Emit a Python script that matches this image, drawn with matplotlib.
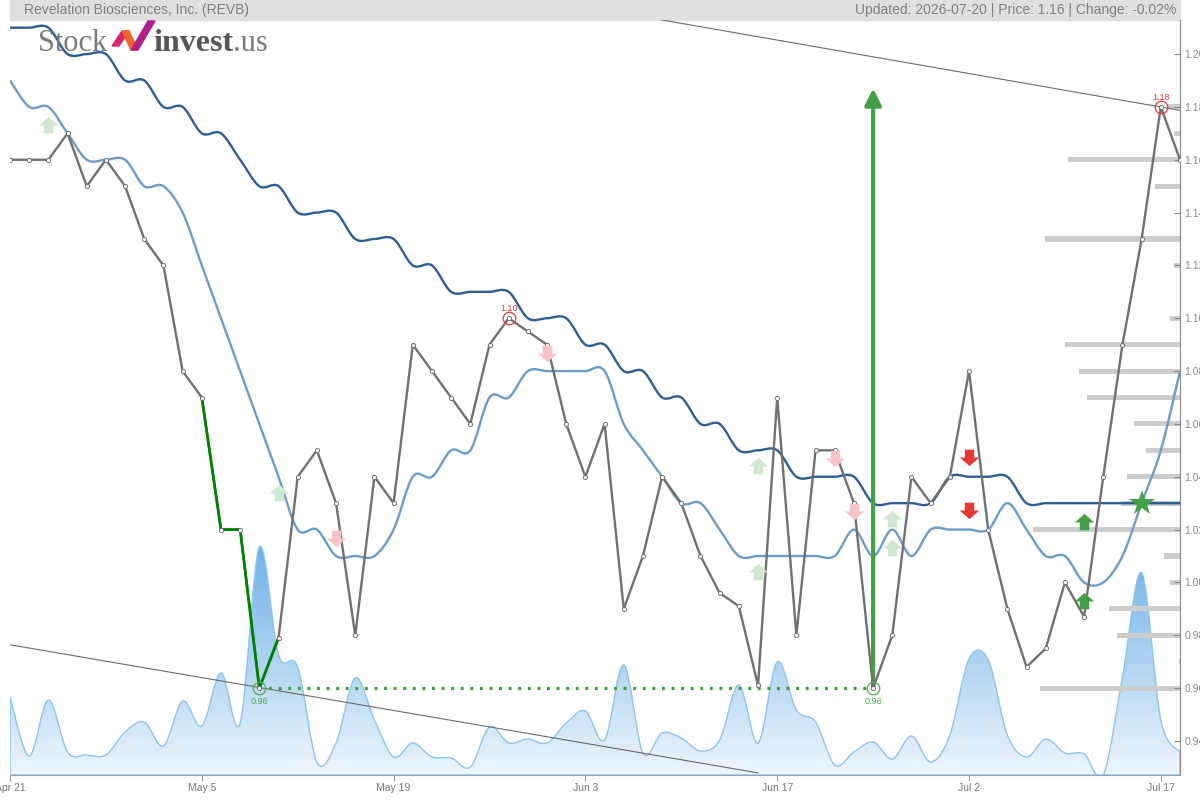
import numpy as np
import pandas as pd
import matplotlib
matplotlib.use('Agg')
import matplotlib.pyplot as plt
from matplotlib.path import Path
from matplotlib.patches import PathPatch, Polygon, Rectangle
from matplotlib.colors import LinearSegmentedColormap

plt.rcParams['font.family'] = ['Liberation Sans', 'DejaVu Sans']

# header texts
company = 'Revelation Biosciences, Inc. (REVB)'
updated = '2026-07-20'
change_txt = '-0.02%'

# trading days (holidays dropped)
holidays = ['2026-05-25', '2026-06-19', '2026-07-03']
dates = pd.bdate_range('2026-04-21', '2026-07-20')
dates = dates[~dates.isin(pd.to_datetime(holidays))]
tick_dates = ['2026-04-21', '2026-05-05', '2026-05-19', '2026-06-03',
              '2026-06-17', '2026-07-02', '2026-07-17']

# daily close
close = [1.16, 1.16, 1.16, 1.17, 1.15, 1.16, 1.15, 1.13, 1.12, 1.08,
         1.07, 1.02, 1.02, 0.96, 0.979, 1.04, 1.05, 1.03, 0.98, 1.04,
         1.03, 1.09, 1.08, 1.07, 1.06, 1.09, 1.10, 1.095, 1.09, 1.06,
         1.04, 1.06, 0.99, 1.01, 1.04, 1.03, 1.01, 0.996, 0.991, 0.961,
         1.07, 0.98, 1.05, 1.05, 1.03, 0.96, 0.98, 1.04, 1.03, 1.04,
         1.08, 1.02, 0.99, 0.968, 0.975, 1.00, 0.987, 1.04, 1.09, 1.13,
         1.18, 1.16]

# long moving average (dark blue)
ma_long = [1.21, 1.21, 1.21, 1.20, 1.20, 1.20, 1.19, 1.19, 1.18, 1.18,
           1.17, 1.17, 1.16, 1.15, 1.15, 1.14, 1.14, 1.14, 1.13, 1.13,
           1.13, 1.12, 1.12, 1.11, 1.11, 1.11, 1.11, 1.10, 1.10, 1.10,
           1.09, 1.09, 1.08, 1.08, 1.07, 1.07, 1.06, 1.06, 1.05, 1.05,
           1.05, 1.04, 1.04, 1.04, 1.04, 1.03, 1.03, 1.03, 1.03, 1.04,
           1.04, 1.04, 1.04, 1.03, 1.03, 1.03, 1.03, 1.03, 1.03, 1.03,
           1.03, 1.03]

# short moving average (light blue)
ma_short = [1.19, 1.18, 1.18, 1.17, 1.16, 1.16, 1.16, 1.15, 1.15, 1.14,
            1.12, 1.10, 1.08, 1.06, 1.04, 1.02, 1.02, 1.01, 1.01, 1.01,
            1.02, 1.04, 1.04, 1.05, 1.05, 1.07, 1.07, 1.08, 1.08, 1.08,
            1.08, 1.08, 1.06, 1.05, 1.04, 1.03, 1.03, 1.02, 1.01, 1.01,
            1.01, 1.01, 1.01, 1.01, 1.02, 1.01, 1.02, 1.01, 1.02, 1.02,
            1.02, 1.02, 1.03, 1.02, 1.01, 1.01, 1.00, 1.00, 1.01, 1.03,
            1.05, 1.08]

# volume (relative units)
volume = [78, 19, 75, 23, 20, 20, 43, 53, 29, 74,
          49, 102, 52, 228, 120, 108, 13, 32, 97, 55,
          18, 32, 18, 17, 8, 48, 32, 36, 32, 52,
          64, 35, 110, 22, 42, 37, 24, 35, 90, 32,
          113, 65, 53, 10, 23, 33, 16, 39, 13, 40,
          116, 115, 40, 18, 36, 22, 21, 0, 98, 202,
          55, 23]

# volume at price profile
profile_levels = [1.18, 1.17, 1.16, 1.15, 1.13, 1.12, 1.10, 1.09, 1.08, 1.07,
                  1.06, 1.05, 1.04, 1.03, 1.02, 1.01, 1.00, 0.99, 0.98, 0.97,
                  0.96]
profile_size = [8, 4, 76, 17, 92, 4, 7, 78, 69, 63,
                31, 23, 36, 40, 100, 11, 7, 48, 43, 1,
                95]

# trend lines (day index, price)
upper_trend = ([34, 61], [1.2129, 1.1787])
lower_trend = ([0, 39], [0.9764, 0.9279])

# signals (day index, price)
weak_buy = [(2, 1.173), (14, 1.034), (39, 1.044), (39, 1.004), (46, 1.024), (46, 1.013)]
weak_sell = [(17, 1.017), (28, 1.087), (43, 1.047), (44, 1.027)]
strong_sell = [(50, 1.0475), (50, 1.0274)]
strong_buy = [(56, 1.023), (56, 0.993)]
star_sig = [(59, 1.030)]

low_days = [13, 45]
high_days = [26, 60]
fall_seg = (10, 14)
support = 0.96
target = 1.187


def smooth(xs, ys):
    pts = np.column_stack([xs, ys]).astype(float)
    p = np.vstack([pts[0], pts, pts[-1]])
    verts = [pts[0]]
    codes = [Path.MOVETO]
    for k in range(1, len(p) - 2):
        p0, p1, p2, p3 = p[k - 1], p[k], p[k + 1], p[k + 2]
        verts += [p1 + (p2 - p0) / 6, p2 - (p3 - p1) / 6, p2]
        codes += [Path.CURVE4] * 3
    return verts, codes


def arrow_marker(up=True):
    v = [(-0.3, -0.5), (0.3, -0.5), (0.3, 0.0), (0.62, 0.0), (0, 0.55),
         (-0.62, 0.0), (-0.3, 0.0), (-0.3, -0.5)]
    if not up:
        v = [(a, -b) for a, b in v]
    return Path(v, closed=True)


n = len(close)
days = np.arange(n)

fig = plt.figure(figsize=(12, 8), dpi=100)
ax = fig.add_axes([10 / 1200, 25 / 800, 1170 / 1200, 755 / 800])
vax = ax.twinx()
ax.set_zorder(2)
vax.set_zorder(1)
ax.patch.set_visible(False)

# volume area with gradient
vv, vc = smooth(days, volume)
area = Path(vv + [(n - 1, 0), (0, 0), (0, 0)],
            vc + [Path.LINETO, Path.LINETO, Path.CLOSEPOLY])
patch = PathPatch(area, fc='none', ec='#8cc4ee', lw=1, zorder=2)
vax.add_patch(patch)
cmap = LinearSegmentedColormap.from_list('vol', ['#eef6fd', '#6fb1e6'])
grad = np.linspace(0, 1, 256).reshape(-1, 1)
im = vax.imshow(grad, extent=[0, n - 1, 0, max(volume)], origin='lower',
                aspect='auto', cmap=cmap, zorder=1)
im.set_clip_path(PathPatch(area, transform=vax.transData))
vax.set_ylim(0, 755)
vax.set_yticks([])
for s in vax.spines.values():
    s.set_visible(False)

# profile bars
pw = np.array(profile_size) / 100 * 7.66
ax.barh(profile_levels, pw, left=(n - 1) - pw, height=0.0019,
        color='#cccccc', zorder=1)

# trend lines
ax.plot(*upper_trend, color='#6a6a6a', lw=0.8, zorder=2)
ax.plot(*lower_trend, color='#6a6a6a', lw=0.8, zorder=2)

# moving averages
for ma, col in [(ma_long, '#2c5f94'), (ma_short, '#6b9dc9')]:
    mv, mc = smooth(days, ma)
    ax.add_patch(PathPatch(Path(mv, mc), fill=False, ec=col, lw=1.7, zorder=3))

# support line and target arrow
ax.plot([low_days[0], low_days[1]], [support, support], color='#3a9d3a',
        lw=2.3, ls=(0, (0.9, 2.1)), zorder=4)
ax.annotate('', xy=(low_days[1], target), xytext=(low_days[1], support),
            arrowprops=dict(arrowstyle='-|>,head_length=0.7,head_width=0.35',
                            color='#43a047', lw=3, shrinkA=0, shrinkB=0,
                            mutation_scale=14), zorder=4)

# price
ax.plot(days, close, color='#707070', lw=1.7, zorder=5)
ax.plot(days[fall_seg[0]:fall_seg[1] + 1], close[fall_seg[0]:fall_seg[1] + 1],
        color='#008000', lw=2, zorder=6)
ax.plot(days, close, 'o', ms=3, mfc='white', mec='#707070', mew=0.7, zorder=7)

# lows and highs
for d in low_days:
    ax.plot(d, close[d], 'o', ms=9, mfc='none', mec='#4caf50', mew=0.9, zorder=8)
    ax.annotate(f'{close[d]:.2f}', (d, close[d]), xytext=(0, -10),
                textcoords='offset points', ha='center', va='center',
                fontsize=6.5, color='#4caf50')
for d in high_days:
    ax.plot(d, close[d], 'o', ms=9, mfc='none', mec='#e53935', mew=0.9, zorder=8)
    ax.annotate(f'{close[d]:.2f}', (d, close[d]), xytext=(0, 7),
                textcoords='offset points', ha='center', va='center',
                fontsize=6.5, color='#e53935')

# signals
up_m = arrow_marker(True)
dn_m = arrow_marker(False)
for pts, m, col in [(weak_buy, up_m, '#cfe8cf'), (weak_sell, dn_m, '#f6c4c4'),
                    (strong_sell, dn_m, '#e53935'), (strong_buy, up_m, '#43a047')]:
    xs, ys = zip(*pts)
    ax.plot(xs, ys, ls='none', marker=m, ms=14, color=col, mew=0, zorder=9)
xs, ys = zip(*star_sig)
ax.plot(xs, ys, ls='none', marker='*', ms=19, color='#43a047', mew=0, zorder=9)

# axes styling
ax.set_xlim(0, n - 1)
vax.set_xlim(0, n - 1)
ax.set_ylim(0.9271, 1.2129)
ax.yaxis.tick_right()
yt = np.arange(0.94, 1.201, 0.02)
ax.set_yticks(yt)
ax.set_yticklabels([f'{v:.2f}' for v in yt])
ax.tick_params(axis='y', direction='in', length=4, color='#888888',
               labelcolor='#888888', labelsize=7.5, pad=3, right=True, left=False)
tick_pos = [list(dates).index(pd.Timestamp(t)) for t in tick_dates]
ax.set_xticks(tick_pos)
ax.set_xticklabels([f'{dates[p]:%b} {dates[p].day}' for p in tick_pos])
ax.tick_params(axis='x', direction='out', length=4, color='#999999',
               labelcolor='#777777', labelsize=7.5, pad=2)
for side in ['top', 'left']:
    ax.spines[side].set_visible(False)
ax.spines['right'].set_color('#888888')
ax.spines['bottom'].set_color('#8aa6c0')

# header bar
fig.patches.append(Rectangle((10 / 1200, 780 / 800), 1170 / 1200, 20 / 800,
                             transform=fig.transFigure, color='#e0e0e0', zorder=0))
fig.text(24 / 1200, 790 / 800, company, fontsize=10, color='#808080', va='center')
fig.text(1176 / 1200, 790 / 800,
         f'Updated: {updated} | Price: {close[-1]:.2f} | Change: {change_txt}',
         fontsize=10, color='#808080', va='center', ha='right')

# logo
base = 1 - 51 / 800
fig.text(38 / 1200, base, 'Stock', fontsize=22, color='#7a7a7a',
         family='Liberation Serif', va='baseline')
inv = fig.text(153 / 1200, base, 'invest', fontsize=23, color='#555555',
               family='Liberation Serif', weight='bold', va='baseline')
rend = fig.canvas.get_renderer()
inv_end = inv.get_window_extent(rend).x1
fig.text(inv_end / 1200, base, '.us', fontsize=22, color='#7a7a7a',
         family='Liberation Serif', va='baseline')
logo_parts = [
    ([(112, 46), (119, 46), (129, 31), (122, 31)], '#d6246e'),
    ([(122, 31), (129, 31), (138, 50), (131, 50)], '#f26522'),
    ([(131, 50), (138, 50), (155, 21), (148, 21)], '#b0208a'),
]
for pts, col in logo_parts:
    fig.patches.append(Polygon([(x / 1200, 1 - y / 800) for x, y in pts],
                               closed=True, transform=fig.transFigure,
                               color=col, zorder=3))

fig.savefig('out.png', dpi=100)
